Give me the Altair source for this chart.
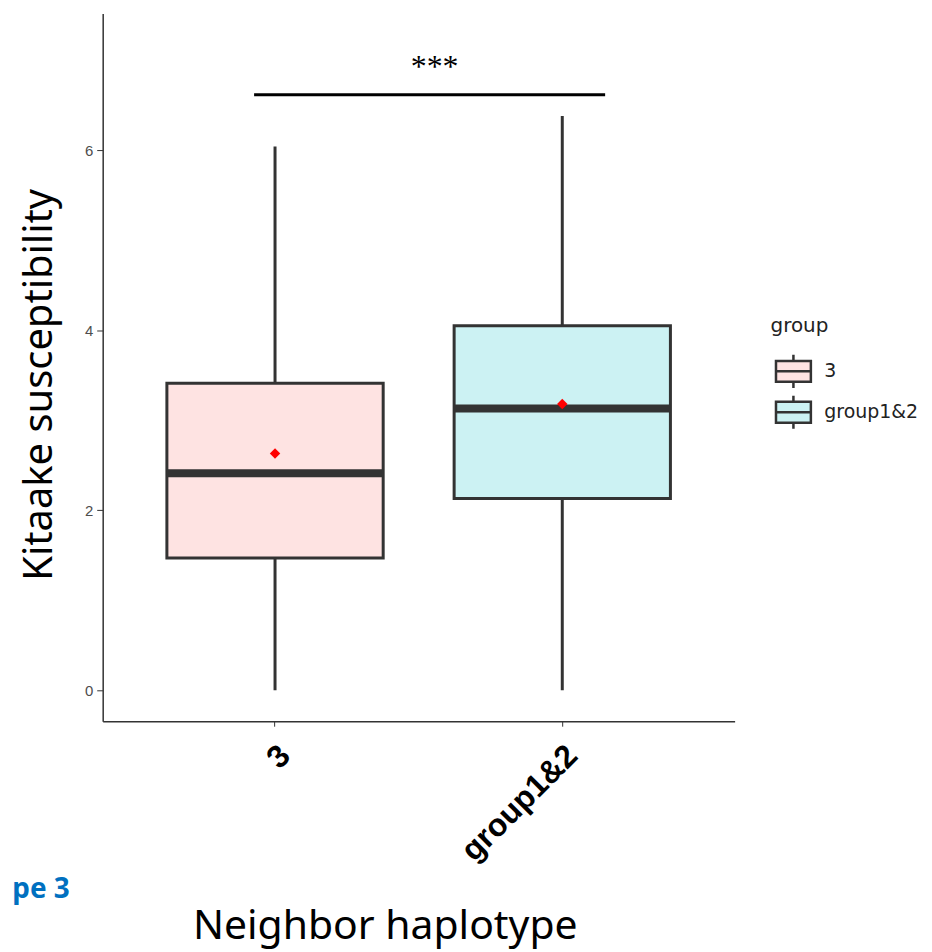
import altair as alt
import pandas as pd

# ---- data ----
cats = ["3", "group1&2"]
whisker_low = [0.0, 0.0]
whisker_high = [6.04, 6.38]
q1 = [1.47, 2.13]
q3 = [3.41, 4.05]
median = [2.41, 3.13]
mean = [2.63, 3.18]
fills = ["#FEE3E2", "#CCF2F3"]
y_ticks = [0, 2, 4, 6]
sig_level = [6.615]
sig_label = ["***"]

df = pd.DataFrame({
    "group": cats, "lo": whisker_low, "hi": whisker_high,
    "q1": q1, "q3": q3, "med": median, "mean": mean,
})
sig_df = pd.DataFrame({"x1": [cats[0]], "x2": [cats[1]], "y": sig_level, "t": sig_label})
note_df = pd.DataFrame({"t": ["pe 3"]})

DARK = "#333333"
xscale = alt.Scale(type="band", domain=cats, paddingInner=0, paddingOuter=0.1)
yscale = alt.Scale(domain=[-0.343, 7.517], nice=False, zero=False)

x_enc = alt.X(
    "group:N", scale=xscale, sort=cats,
    axis=alt.Axis(
        title="Neighbor haplotype", labelAngle=-45, labelAlign="right",
        labelBaseline="middle", labelFont="Liberation Sans", labelFontWeight="bold",
        labelFontSize=32, labelColor="black", labelPadding=24, labelOffset=10,
        tickSize=5, tickColor=DARK, domainColor=DARK, domainWidth=1.5, grid=False,
        titleFont="Noto Sans", titleFontSize=41, titleFontWeight="normal",
        titleColor="black", titleX=283, titleY=218, titleAlign="center",
        titleBaseline="alphabetic", titleAnchor="start",
    ),
)

y_axis = alt.Axis(
    title="Kitaake susceptibility", values=y_ticks, format="d", labelFont="Liberation Sans",
    labelFontSize=15, labelColor="#4D4D4D", labelPadding=4, tickSize=6, grid=False,
    tickColor=DARK, domainColor=DARK, domainWidth=1.5,
    titleFont="Noto Sans", titleFontSize=40, titleFontWeight="normal",
    titleColor="black", titleX=-51, titleY=372, titleAngle=-90,
    titleAlign="center", titleBaseline="alphabetic", titleAnchor="start",
)

base = alt.Chart(df)

whiskers = base.mark_rule(color=DARK, strokeWidth=3).encode(
    x=x_enc, y=alt.Y("lo:Q", scale=yscale, axis=y_axis), y2="hi:Q"
)

box_symbol = "M-1,-0.6H1V0.6H-1Z M-1,0H1 M0,-0.6V-0.95 M0,0.6V0.95"
boxes = base.mark_bar(size=217, stroke=DARK, strokeWidth=3, opacity=1).encode(
    x=alt.X("group:N", scale=xscale, sort=cats),
    y=alt.Y("q1:Q", scale=yscale),
    y2="q3:Q",
    fill=alt.Fill(
        "group:N", scale=alt.Scale(domain=cats, range=fills),
        legend=alt.Legend(
            title="group", orient="none", legendX=670, legendY=304,
            titleFont="DejaVu Sans", titleFontSize=20, titleFontWeight="normal",
            titleColor="#222222", titlePadding=16, labelFont="DejaVu Sans",
            labelFontSize=19, labelColor="#222222", symbolType=box_symbol,
            symbolSize=1225, symbolStrokeColor=DARK, symbolStrokeWidth=2.5,
            symbolOffset=4, labelOffset=12, rowPadding=-3,
        ),
    ),
)

medians = base.mark_tick(orient="horizontal", size=217, thickness=8, color=DARK, opacity=1).encode(
    x=alt.X("group:N", scale=xscale, sort=cats), y=alt.Y("med:Q", scale=yscale)
)

means = base.mark_point(shape="diamond", filled=True, color="#FF0000", size=110, opacity=1).encode(
    x=alt.X("group:N", scale=xscale, sort=cats), y=alt.Y("mean:Q", scale=yscale)
)

sig_bar = alt.Chart(sig_df).mark_rule(color="black", strokeWidth=3, xOffset=-21, x2Offset=43).encode(
    x=alt.X("x1:N", scale=xscale), x2="x2:N", y=alt.Y("y:Q", scale=yscale)
)

sig_text = alt.Chart(sig_df).mark_text(
    font="Liberation Serif", fontSize=32, color="black", baseline="middle", dy=-28
).encode(x=alt.value(333), y=alt.Y("y:Q", scale=yscale), text="t:N")

note = alt.Chart(note_df).mark_text(
    font="Noto Sans", fontWeight="bold", fontSize=28, color="#0070C0",
    align="right", baseline="alphabetic"
).encode(x=alt.value(-33), y=alt.value(887), text="t:N")

chart = alt.layer(whiskers, boxes, medians, means, sig_bar, sig_text, note).properties(
    width=634, height=710,
    padding={"left": 95, "top": 4, "right": 190, "bottom": 228},
    autosize=alt.AutoSizeParams(type="none"),
).configure(background="white").configure_view(stroke=None).configure_axis(grid=False)

chart.save("out.html", embed_options={"renderer": "svg", "actions": False})
